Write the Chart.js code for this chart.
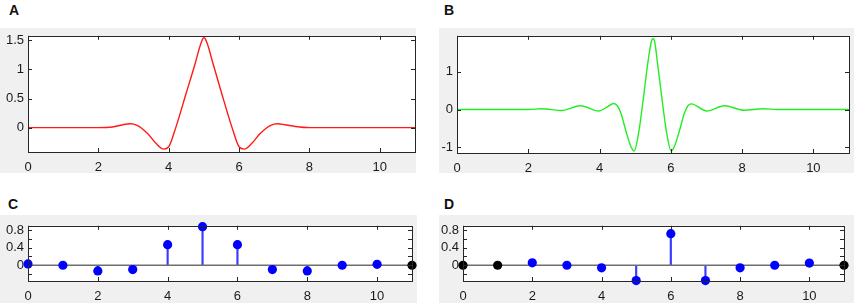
<!DOCTYPE html>
<html>
<head>
<meta charset="utf-8">
<script src="https://cdn.jsdelivr.net/npm/chart.js@4.4.1/dist/chart.umd.min.js"></script>
<style>
    body { margin: 0; background: #fff; width: 854px; height: 308px; position: relative; overflow: hidden; font-family: "Liberation Sans", Arial, sans-serif; }
    .bg { position: absolute; background: #f0f0f0; }
    .panel { position: absolute; }
    .letter { position: absolute; font-weight: bold; font-size: 14px; line-height: 14px; color: #111; }
</style>
</head>
<body>
<div class="bg" style="left:0;top:28px;width:416px;height:145px"></div>
<div class="bg" style="left:439px;top:28px;width:415px;height:145px"></div>
<div class="bg" style="left:0;top:215px;width:417px;height:88px"></div>
<div class="bg" style="left:439px;top:215px;width:415px;height:88px"></div>

<div class="letter" style="left:9px;top:3px">A</div>
<div class="letter" style="left:444px;top:3px">B</div>
<div class="letter" style="left:8px;top:197px">C</div>
<div class="letter" style="left:444px;top:197px">D</div>

<div class="panel" style="left:0;top:24px;width:420px;height:153px"><canvas id="chartA"></canvas></div>
<div class="panel" style="left:425px;top:24px;width:429px;height:154px"><canvas id="chartB"></canvas></div>
<div class="panel" style="left:0;top:214px;width:417px;height:92px"><canvas id="chartC"></canvas></div>
<div class="panel" style="left:425px;top:214px;width:424px;height:92px"><canvas id="chartD"></canvas></div>

<script>
// x ticks shared by all panels
const xTicks = [0, 2, 4, 6, 8, 10];

// panel A (red curve)
const aX = [0, 1, 2, 2.4, 2.7, 2.9, 3.1, 3.4, 3.65, 3.85, 4.0, 4.2, 4.5, 4.75, 4.9, 5.0, 5.1, 5.25, 5.5, 5.8, 6.0, 6.15, 6.35, 6.6, 6.9, 7.1, 7.3, 7.6, 8.0, 9, 10, 11];
const aY = [0, 0, 0, 0.01, 0.05, 0.065, 0.04, -0.1, -0.28, -0.37, -0.33, 0.0, 0.6, 1.1, 1.42, 1.55, 1.44, 1.12, 0.6, 0.0, -0.33, -0.37, -0.28, -0.1, 0.04, 0.065, 0.05, 0.02, 0, 0, 0, 0];
const aTicks = [0, 0.5, 1, 1.5];

// panel B (green curve)
const bX = [0, 1, 2, 2.37, 2.93, 3.47, 3.98, 4.2, 4.4, 4.5, 4.6, 4.75, 4.88, 4.97, 5.1, 5.23, 5.35, 5.45, 5.5, 5.55, 5.63, 5.75, 5.88, 6.01, 6.1, 6.23, 6.38, 6.48, 6.57, 7.01, 7.5, 8.07, 8.58, 9, 10, 11];
const bY = [0, 0, 0, 0.02, -0.025, 0.1, -0.04, 0.06, 0.16, 0.1, -0.1, -0.6, -0.98, -1.1, -0.6, 0.3, 1.2, 1.78, 1.88, 1.78, 1.2, 0.3, -0.6, -1.1, -0.98, -0.6, -0.1, 0.1, 0.15, -0.04, 0.1, -0.02, 0.02, 0, 0, 0];
const bTicks = [-1, 0, 1];

// panels C and D (stems)
const stemX = [0, 1, 2, 3, 4, 5, 6, 7, 8, 9, 10, 11];
const cY = [0.03, 0, -0.13, -0.1, 0.47, 0.88, 0.47, -0.1, -0.13, 0, 0.02, 0];
const cBlack = [11];
const dY = [0, 0, 0.055, 0, -0.06, -0.35, 0.72, -0.35, -0.06, 0, 0.05, 0];
const dBlack = [0, 1, 11];
const stemTicks = [-0.2, 0, 0.2, 0.4, 0.6, 0.8];
const stemLabels = [0, 0.4, 0.8];

const textColor = '#1a1a1a';
const font = { family: '"Liberation Sans", Arial, sans-serif', size: 13 };

// white plot area, black box and MATLAB style inward ticks
const boxPlugin = {
    id: 'box',
    beforeDraw(chart) {
        const { ctx, chartArea: a } = chart;
        ctx.save();
        ctx.fillStyle = '#fff';
        ctx.fillRect(a.left, a.top, a.right - a.left, a.bottom - a.top);
        ctx.restore();
    },
    afterDraw(chart) {
        const { ctx, chartArea: a, scales } = chart;
        const len = 4;
        ctx.save();
        ctx.strokeStyle = '#262626';
        ctx.lineWidth = 1;
        ctx.beginPath();
        scales.x.ticks.forEach(t => {
            const px = Math.round(scales.x.getPixelForValue(t.value)) + 0.5;
            ctx.moveTo(px, a.bottom); ctx.lineTo(px, a.bottom - len);
            ctx.moveTo(px, a.top); ctx.lineTo(px, a.top + len);
        });
        scales.y.ticks.forEach(t => {
            const py = Math.round(scales.y.getPixelForValue(t.value)) + 0.5;
            ctx.moveTo(a.left, py); ctx.lineTo(a.left + len, py);
            ctx.moveTo(a.right, py); ctx.lineTo(a.right - len, py);
        });
        ctx.stroke();
        ctx.strokeRect(Math.round(a.left) + 0.5, Math.round(a.top) + 0.5,
            Math.round(a.right - a.left), Math.round(a.bottom - a.top));
        ctx.restore();
    }
};

function buildScales(yMin, yMax, yTicks, yWidth, labelFn) {
    return {
        x: {
            type: 'linear',
            min: 0,
            max: 11,
            offset: false,
            afterBuildTicks: s => { s.ticks = xTicks.map(v => ({ value: v })); },
            afterFit: s => { s.height = 25; },
            grid: { display: false, drawTicks: false },
            border: { display: false },
            ticks: { color: textColor, font, padding: 8, maxRotation: 0, autoSkip: false }
        },
        y: {
            type: 'linear',
            min: yMin,
            max: yMax,
            afterBuildTicks: s => { s.ticks = yTicks.map(v => ({ value: v })); },
            afterFit: s => { s.width = yWidth; },
            grid: { display: false, drawTicks: false },
            border: { display: false },
            ticks: { color: textColor, font, padding: 4, autoSkip: false, callback: labelFn || (v => String(v)) }
        }
    };
}

const baseOptions = {
    responsive: true,
    maintainAspectRatio: false,
    animation: false,
    layout: { padding: { top: 8, right: 5, left: 0, bottom: 0 } },
    plugins: { legend: { display: false }, tooltip: { enabled: false } }
};

function curveChart(id, xs, ys, color, yMin, yMax, yTicks, yWidth) {
    new Chart(document.getElementById(id), {
        type: 'line',
        data: {
            datasets: [{
                data: xs.map((x, i) => ({ x, y: ys[i] })),
                borderColor: color,
                borderWidth: 1.4,
                pointRadius: 0,
                cubicInterpolationMode: 'monotone',
                fill: false
            }]
        },
        options: { ...baseOptions, scales: buildScales(yMin, yMax, yTicks, yWidth) },
        plugins: [boxPlugin]
    });
}

function stemChart(id, ys, blackIdx, yWidth) {
    const points = stemX.map((x, i) => ({ x, y: ys[i] }));
    new Chart(document.getElementById(id), {
        type: 'scatter',
        data: {
            datasets: [
                {
                    type: 'bar',
                    data: points,
                    backgroundColor: '#3b3bff',
                    barThickness: 1.5,
                    order: 3
                },
                {
                    type: 'line',
                    data: [{ x: 0, y: 0 }, { x: 11, y: 0 }],
                    borderColor: '#6e6e6e',
                    borderWidth: 1.5,
                    pointRadius: 0,
                    order: 2
                },
                {
                    type: 'scatter',
                    data: points,
                    pointRadius: 4.6,
                    pointBorderWidth: 0,
                    pointBackgroundColor: stemX.map((x, i) => blackIdx.includes(i) ? '#000' : '#0000ff'),
                    clip: false,
                    order: 1
                }
            ]
        },
        options: {
            ...baseOptions,
            scales: buildScales(-0.36, 0.9, stemTicks, yWidth, v => stemLabels.includes(v) ? String(v) : '')
        },
        plugins: [boxPlugin]
    });
}

curveChart('chartA', aX, aY, '#ff1a1a', -0.42, 1.58, aTicks, 28);
curveChart('chartB', bX, bY, '#22ee22', -1.15, 1.95, bTicks, 32);
stemChart('chartC', cY, cBlack, 28);
stemChart('chartD', dY, dBlack, 38);
</script>
</body>
</html>
